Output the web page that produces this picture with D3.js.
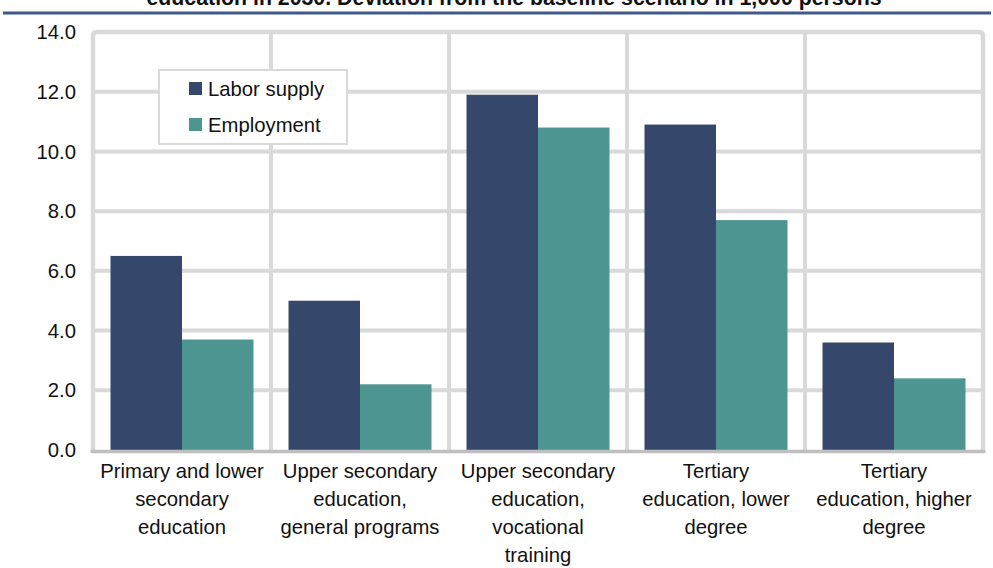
<!DOCTYPE html>
<html>
<head>
<meta charset="utf-8">
<script src="https://cdn.jsdelivr.net/npm/d3@7/dist/d3.min.js"></script>
<style>
  html, body { margin: 0; padding: 0; background: #fff; }
  svg { display: block; font-family: "Liberation Sans", Arial, sans-serif; }
</style>
</head>
<body>
<svg id="chart" width="993" height="568"></svg>
<script>
// Education groups (x-axis), one label line per array entry
const categories = [
  ["Primary and lower", "secondary", "education"],
  ["Upper secondary", "education,", "general programs"],
  ["Upper secondary", "education,", "vocational", "training"],
  ["Tertiary", "education, lower", "degree"],
  ["Tertiary", "education, higher", "degree"]
];
const seriesNames = ["Labor supply", "Employment"];
const laborSupply = [6.5, 5.0, 11.9, 10.9, 3.6];
const employment  = [3.7, 2.2, 10.8, 7.7, 2.4];
const yTicks = [0, 2, 4, 6, 8, 10, 12, 14];
const titleText = "education in 2030. Deviation from the baseline scenario in 1,000 persons";

const colors = { "Labor supply": "#35486b", "Employment": "#4d9591" };

const svg = d3.select("#chart");
const plot = { left: 93, right: 983, top: 32, bottom: 450 };
const fs = 20.3;

// Title (runs off the top edge) and the rule under it
svg.append("text")
  .attr("x", 514).attr("y", 5)
  .attr("text-anchor", "middle")
  .attr("font-size", 21.3).attr("font-weight", "bold")
  .attr("fill", "#111")
  .text(titleText);
svg.append("line")
  .attr("x1", 3).attr("x2", 991).attr("y1", 13).attr("y2", 13)
  .attr("stroke", "#3f5a8a").attr("stroke-width", 3);

const keys = categories.map((c, i) => "c" + i);
const x0 = d3.scaleBand().domain(keys).range([plot.left, plot.right]).padding(0);
const x1 = d3.scaleBand().domain(seriesNames).range([0, x0.bandwidth()]).paddingInner(0).paddingOuter(0.245);
const y = d3.scaleLinear().domain([0, 14]).range([plot.bottom, plot.top]);

const gridColor = "#d9d9d9";

// Horizontal gridlines
svg.append("g").selectAll("line")
  .data(yTicks.filter(t => t > 0 && t < 14))
  .join("line")
  .attr("x1", plot.left).attr("x2", plot.right)
  .attr("y1", d => y(d)).attr("y2", d => y(d))
  .attr("stroke", gridColor).attr("stroke-width", 4);

// Vertical gridlines between categories
svg.append("g").selectAll("line")
  .data(keys.slice(1))
  .join("line")
  .attr("x1", d => x0(d)).attr("x2", d => x0(d))
  .attr("y1", plot.top).attr("y2", plot.bottom)
  .attr("stroke", gridColor).attr("stroke-width", 4);

// Plot frame: left, top, right with rounded corners
svg.append("path")
  .attr("d", `M${plot.left},${plot.bottom} L${plot.left},${plot.top + 4} Q${plot.left},${plot.top} ${plot.left + 4},${plot.top} L${plot.right - 4},${plot.top} Q${plot.right},${plot.top} ${plot.right},${plot.top + 4} L${plot.right},${plot.bottom}`)
  .attr("fill", "none").attr("stroke", gridColor).attr("stroke-width", 4.5);

// Bars
const rows = categories.map((c, i) => ({ key: keys[i], values: [
  { name: "Labor supply", v: laborSupply[i] },
  { name: "Employment", v: employment[i] }
]}));

const groups = svg.append("g").selectAll("g")
  .data(rows).join("g")
  .attr("transform", d => `translate(${x0(d.key)},0)`);
groups.selectAll("rect")
  .data(d => d.values).join("rect")
  .attr("x", d => x1(d.name))
  .attr("width", x1.bandwidth())
  .attr("y", d => y(d.v))
  .attr("height", d => y(0) - y(d.v))
  .attr("fill", d => colors[d.name]);

// Baseline axis
svg.append("line")
  .attr("x1", plot.left - 1).attr("x2", plot.right + 1)
  .attr("y1", plot.bottom + 1.5).attr("y2", plot.bottom + 1.5)
  .attr("stroke", "#bfbfbf").attr("stroke-width", 3.5)
  .attr("stroke-linecap", "round");

// Y tick labels
svg.append("g").selectAll("text")
  .data(yTicks).join("text")
  .attr("x", 76).attr("y", d => y(d))
  .attr("dy", "0.35em")
  .attr("text-anchor", "end")
  .attr("font-size", fs).attr("fill", "#111")
  .text(d => d3.format(".1f")(d));

// X category labels
const xl = svg.append("g").selectAll("text")
  .data(rows).join("text")
  .attr("text-anchor", "middle")
  .attr("font-size", fs).attr("fill", "#111")
  .attr("transform", d => `translate(${x0(d.key) + x0.bandwidth() / 2},478)`);
xl.selectAll("tspan")
  .data((d, i) => categories[i])
  .join("tspan")
  .attr("x", 0)
  .attr("y", (d, i) => i * 28)
  .text(d => d);

// Legend
const lg = svg.append("g").attr("transform", "translate(159,70)");
lg.append("rect")
  .attr("x", 0).attr("y", 0).attr("width", 188).attr("height", 74)
  .attr("fill", "#fff").attr("stroke", gridColor).attr("stroke-width", 2);
const li = lg.selectAll("g.item").data(seriesNames).join("g")
  .attr("class", "item")
  .attr("transform", (d, i) => `translate(30,${12 + i * 36})`);
li.append("rect").attr("width", 13).attr("height", 13).attr("fill", d => colors[d]);
li.append("text")
  .attr("x", 19).attr("y", 6.5).attr("dy", "0.35em")
  .attr("font-size", fs).attr("fill", "#111")
  .text(d => d);
</script>
</body>
</html>
